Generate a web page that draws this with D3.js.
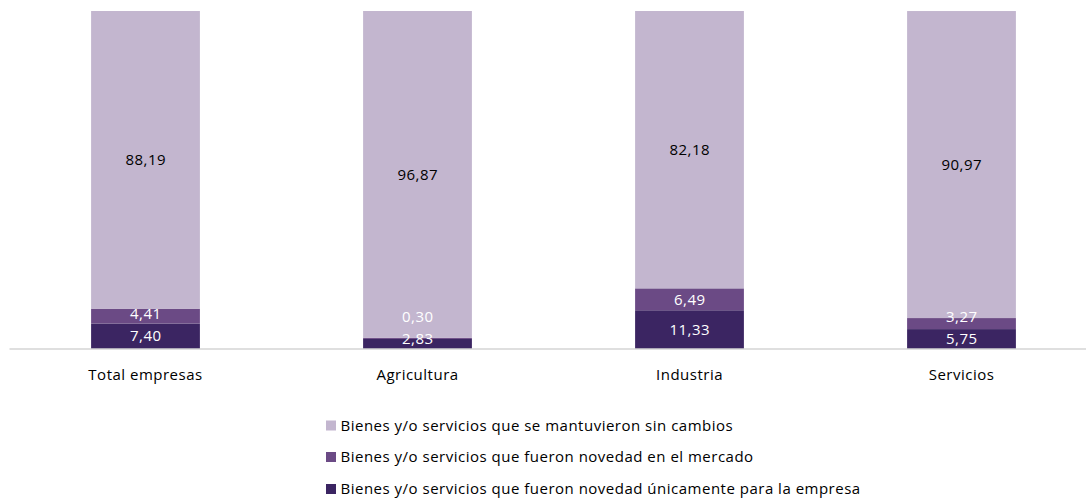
<!DOCTYPE html>
<html>
<head>
<meta charset="utf-8">
<script src="https://cdn.jsdelivr.net/npm/d3@7"></script>
<style>
  html, body { margin: 0; padding: 0; background: #fff; }
  svg { display: block; }
</style>
</head>
<body>
<svg id="chart" width="1086" height="498"></svg>
<script>
// ---- Data ----
const categories = ["Total empresas", "Agricultura", "Industria", "Servicios"];
const seriesNames = [
  "Bienes y/o servicios que fueron novedad únicamente para la empresa",
  "Bienes y/o servicios que fueron novedad en el mercado",
  "Bienes y/o servicios que se mantuvieron sin cambios"
];
const novedadEmpresa = [7.40, 2.83, 11.33, 5.75];
const novedadMercado = [4.41, 0.30, 6.49, 3.27];
const sinCambios = [88.19, 96.87, 82.18, 90.97];
const seriesColors = ["#3B2562", "#6B4A85", "#C3B6CF"];
const labelColors = ["#ffffff", "#ffffff", "#000000"];
const legendOrder = [2, 1, 0];

// ---- Layout ----
const svg = d3.select("#chart");
const fontFamily = "'Open Sans', 'Noto Sans', sans-serif";
const fontSize = "15px";
const letterSp = "0.5px";
const baseY = 348.5, topY = 11;
const x = d3.scaleBand().domain(categories).range([9.5, 1097.5]).paddingInner(0.6).paddingOuter(0.3);
const y = d3.scaleLinear().domain([0, 100]).range([baseY, topY]);

const table = categories.map((c, i) => ({
  cat: c, s0: novedadEmpresa[i], s1: novedadMercado[i], s2: sinCambios[i]
}));
const stack = d3.stack().keys(["s0", "s1", "s2"]);
const stacked = stack(table);

const g = svg.append("g");
stacked.forEach((layer, si) => {
  g.append("g").selectAll("rect").data(layer).join("rect")
    .attr("x", d => x(d.data.cat))
    .attr("width", x.bandwidth())
    .attr("y", d => y(d[1]))
    .attr("height", d => y(d[0]) - y(d[1]))
    .attr("fill", seriesColors[si]);
});

// axis line
svg.append("line")
  .attr("x1", 9.5).attr("x2", 1086)
  .attr("y1", baseY + 0.5).attr("y2", baseY + 0.5)
  .attr("stroke", "#BFBFBF").attr("stroke-width", 1);

// category labels via axis
const axis = d3.axisBottom(x).tickSize(0).tickPadding(0);
const ax = svg.append("g").attr("transform", `translate(0,${baseY})`).call(axis);
ax.select(".domain").remove();
ax.selectAll("text")
  .attr("y", 31).attr("dy", null)
  .attr("font-family", fontFamily).attr("font-size", fontSize)
  .attr("letter-spacing", letterSp).attr("fill", "#000");

// value labels with simple overlap avoidance (labels kept inside plot, pushed up)
const labelH = 22;
categories.forEach((c, ci) => {
  let prevCenter = null;
  stacked.forEach((layer, si) => {
    const d = layer[ci];
    const v = d[1] - d[0];
    let center = (y(d[0]) + y(d[1])) / 2;
    if (prevCenter === null) center = Math.min(center, baseY - labelH / 2 + 1.5);
    else center = Math.min(center, prevCenter - labelH);
    prevCenter = center;
    svg.append("text")
      .attr("x", x(c) + x.bandwidth() / 2 + 0.25)
      .attr("y", center)
      .attr("dy", "0.36em")
      .attr("text-anchor", "middle")
      .attr("font-family", fontFamily).attr("font-size", fontSize)
      .attr("letter-spacing", letterSp)
      .attr("fill", labelColors[si])
      .text(d3.format(".2f")(v).replace(".", ","));
  });
});

// legend
const legY = [425.5, 457, 489];
legendOrder.forEach((si, k) => {
  const lg = svg.append("g");
  lg.append("rect").attr("x", 326).attr("y", legY[k] - 5).attr("width", 10).attr("height", 10)
    .attr("fill", seriesColors[si]);
  lg.append("text").attr("x", 340.5).attr("y", legY[k]).attr("dy", "0.36em")
    .attr("font-family", fontFamily).attr("font-size", fontSize)
    .attr("letter-spacing", letterSp).attr("fill", "#000")
    .text(seriesNames[si]);
});
</script>
</body>
</html>
